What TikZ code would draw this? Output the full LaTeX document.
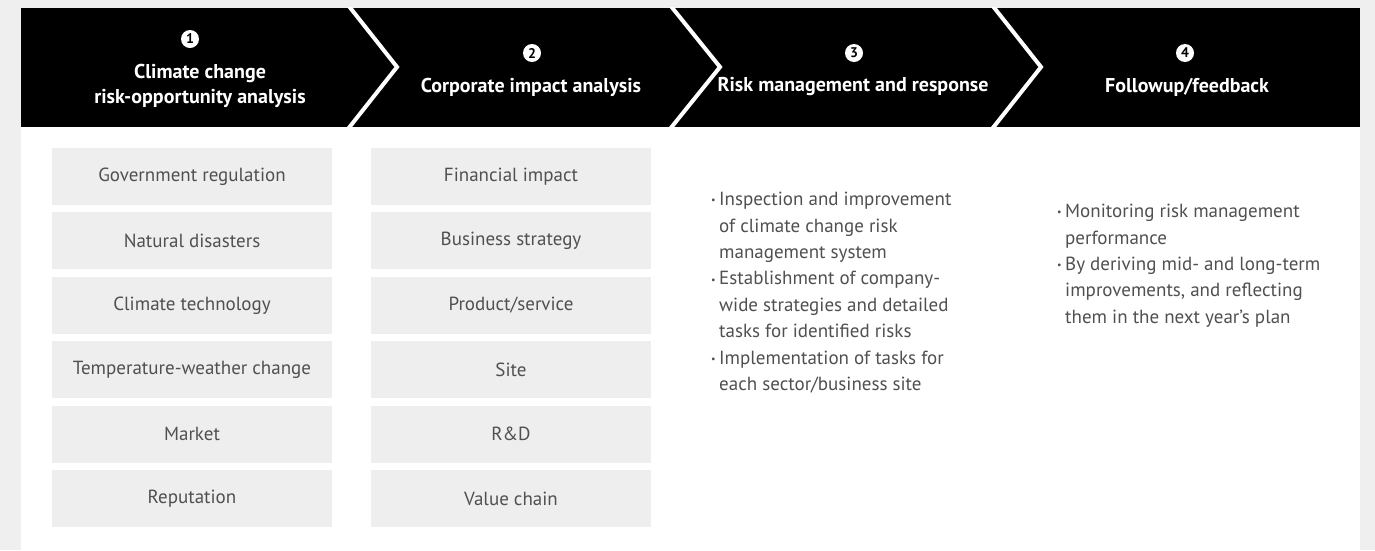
\documentclass[tikz,border=0pt]{standalone}
\usepackage{fontspec}
\setmainfont{PT Sans}
\definecolor{pagegrey}{RGB}{239,239,239}
\definecolor{boxgrey}{RGB}{238,238,238}
\definecolor{bodytext}{RGB}{80,80,80}
\newcommand{\bul}{\llap{{\fontsize{10}{10}\selectfont\raisebox{1.8pt}{•}}\hspace{3.5pt}}}
\begin{document}
\begin{tikzpicture}[x=1pt,y=-1pt,
  hdr/.style={text=white,font=\bfseries\fontsize{20}{24.5}\selectfont,align=center,inner sep=0pt},
  num/.style={circle,fill=white,inner sep=0pt,minimum size=18pt,text=black,font=\bfseries\fontsize{14}{14}\selectfont},
  cell/.style={rectangle,fill=boxgrey,minimum width=280pt,minimum height=57pt,inner sep=0pt,text=bodytext,font=\fontsize{19}{22}\selectfont},
  blist/.style={anchor=north west,align=left,text=bodytext,font=\fontsize{19}{26.4}\selectfont,inner sep=0pt},
  sepline/.style={draw=white,line width=4pt}]
\path[use as bounding box,fill=pagegrey] (0,0) rectangle (1375,550);
\fill[white] (21,7.5) rectangle (1360,550);
\fill[black] (21,7.5) rectangle (1360,126.5);
\begin{scope}
\clip (21,7.5) rectangle (1360,126.5);
\draw[sepline] (348,5) -- (397,67) -- (348,129);
\draw[sepline] (670,5) -- (720,67) -- (670,129);
\draw[sepline] (992,5) -- (1041,67) -- (992,129);
\end{scope}
% header
\node[num] (n1) at (190,39) {1};
\node[hdr] (h1) at (200,86) {Climate change\\risk-opportunity analysis};
\node[num] (n2) at (532,53) {2};
\node[hdr] (h2) at (531,87) {Corporate impact analysis};
\node[num] (n3) at (854,53) {3};
\node[hdr] (h3) at (853,87) {Risk management and response};
\node[num] (n4) at (1185,53) {4};
\node[hdr] (h4) at (1187,87) {Followup/feedback};
% column 1
\node[cell] (a1) at (192,176.5) {Government regulation};
\node[cell] (a2) at (192,240.9) {Natural disasters};
\node[cell] (a3) at (192,305.3) {Climate technology};
\node[cell] (a4) at (192,369.7) {Temperature-weather change};
\node[cell] (a5) at (192,434.1) {Market};
\node[cell] (a6) at (192,498.5) {Reputation};
% column 2
\node[cell] (b1) at (511,176.5) {Financial impact};
\node[cell] (b2) at (511,240.9) {Business strategy};
\node[cell] (b3) at (511,305.3) {Product/service};
\node[cell] (b4) at (511,369.7) {Site};
\node[cell] (b5) at (511,434.1) {R\&D};
\node[cell] (b6) at (511,498.5) {Value chain};
% column 3
\node[blist] (c) at (719,192) {\bul Inspection and improvement\\
of climate change risk\\
management system\\
\bul Establishment of company-\\
wide strategies and detailed\\
tasks for identified risks\\
\bul Implementation of tasks for\\
each sector/business site};
% column 4
\node[blist] (d) at (1065,204) {\bul Monitoring risk management\\
performance\\
\bul By deriving mid- and long-term\\
improvements, and reflecting\\
them in the next year’s plan};
\end{tikzpicture}
\end{document}
